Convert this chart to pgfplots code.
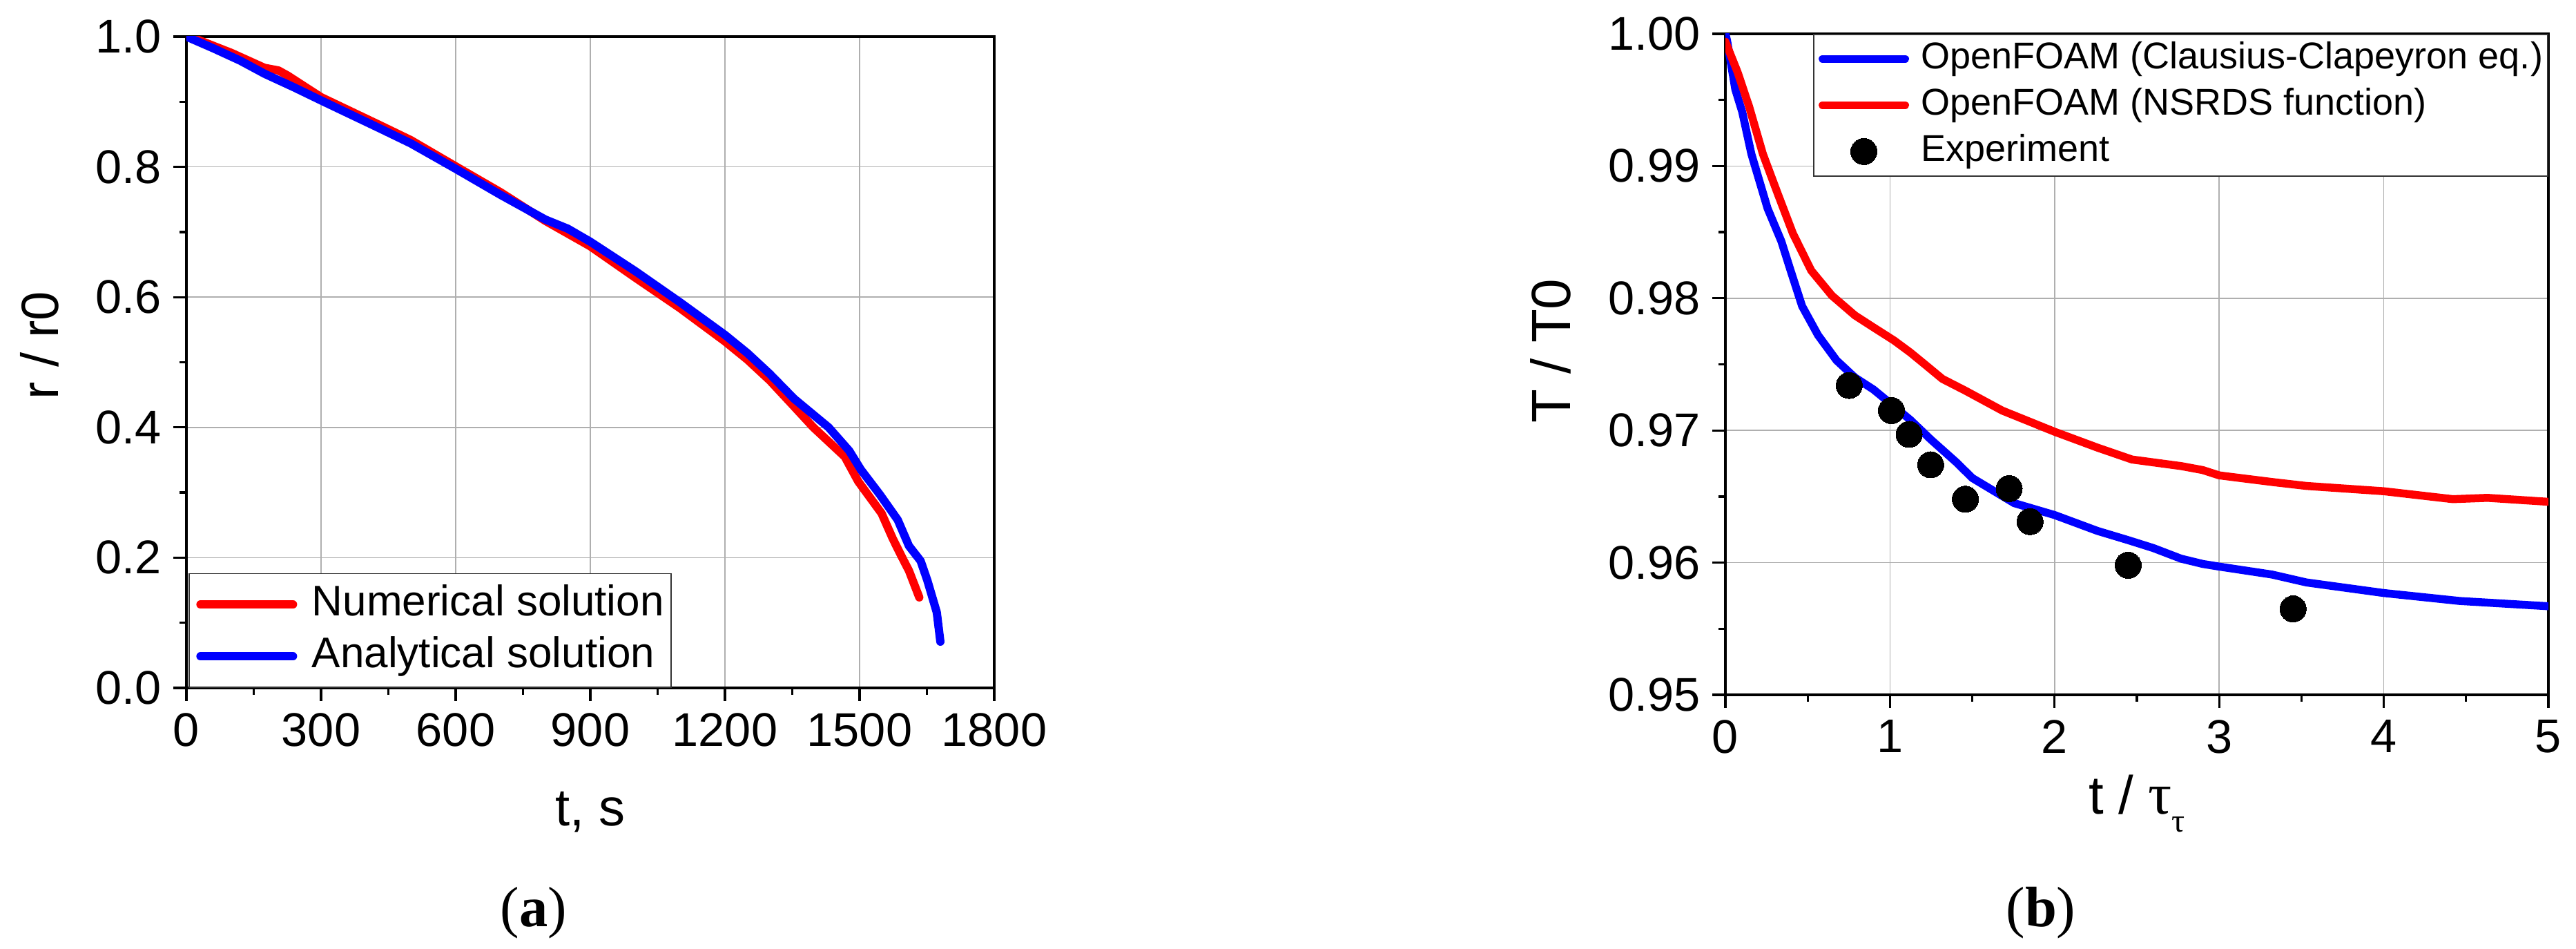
\documentclass[border=0pt]{standalone}
\usepackage{fontspec}
\setmainfont{Liberation Sans}
\newfontfamily\seriffont{Liberation Serif}
\usepackage{pgfplots}
\pgfplotsset{compat=1.18}
\definecolor{gridgray}{RGB}{175,175,175}
\definecolor{pblue}{RGB}{0,0,255}
\definecolor{pred}{RGB}{255,0,0}
\pgfplotsset{
  panel/.style={
    scale only axis, anchor=south west,
    axis line style={line width=0.66pt, black},
    tick style={line width=0.66pt, black},
    major tick length=3.8pt, minor tick length=2pt,
    tick align=outside, tick pos=left,
    grid=major, major grid style={line width=0.3pt, gridgray},
    minor x tick num=1, minor y tick num=1,
    tick label style={font=\fontsize{13.7}{13.7}\selectfont},
    /pgf/number format/assume math mode=true,
    /pgf/number format/1000 sep={},
    scaled ticks=false,
    legend cell align=left,
    every axis plot/.append style={line cap=round, line join=round},
  },
  dotimg/.style={legend image code/.code={\draw[mark repeat=2, mark phase=2, ##1] plot coordinates {(0pt,0pt) (11.95pt,0pt) (23.9pt,0pt)};}},
}
\begin{document}
\begin{tikzpicture}
\path[use as bounding box] (0pt,0pt) rectangle (746.2pt,274.8pt);

% ---------- (a) ----------
\begin{axis}[panel, at={(54pt,75.6pt)}, width=234pt, height=188.6pt,
  xmin=0, xmax=1800, ymin=0, ymax=1,
  xtick={0,300,600,900,1200,1500,1800},
  ytick={0,0.2,0.4,0.6,0.8,1},
  yticklabel style={/pgf/number format/.cd, fixed, fixed zerofill, precision=1},
  legend style={at={(axis description cs:0,0)}, anchor=south west, xshift=0.6pt,
    draw=black!80, line width=0.35pt, font=\fontsize{12.4}{12.4}\selectfont,
    inner xsep=2.1pt, inner ysep=3.2pt, row sep=3.5pt, column sep=4.3pt,
    nodes={inner sep=0pt, text height=9pt, text depth=2.5pt}},
  legend image code/.code={\draw[#1] (0pt,0pt) -- (26.8pt,0pt);},
]
\addplot[pred, line width=2.4pt] table {
t r
0 1.000
15 0.998
100 0.975
174 0.952
205 0.948
226 0.940
300 0.907
431 0.864
500 0.841
602 0.800
700 0.761
800 0.717
900 0.678
1000 0.630
1100 0.583
1200 0.532
1250 0.504
1300 0.472
1354 0.432
1397 0.400
1467 0.355
1497 0.317
1549 0.268
1574 0.229
1595 0.200
1610 0.180
1633 0.139
};
\addlegendentry{Numerical solution}
\addplot[pblue, line width=2.4pt] table {
t r
0 1.000
60 0.982
120 0.963
174 0.943
240 0.922
300 0.902
431 0.859
500 0.836
600 0.797
700 0.757
800 0.719
850 0.705
900 0.685
1000 0.640
1100 0.592
1200 0.542
1250 0.514
1300 0.482
1354 0.444
1431 0.400
1477 0.364
1503 0.335
1545 0.297
1585 0.258
1610 0.218
1636 0.195
1651 0.165
1672 0.116
1680 0.071
};
\addlegendentry{Analytical solution}
\end{axis}

% ---------- (b) ----------
\begin{axis}[panel, at={(499.8pt,73.6pt)}, width=238.4pt, height=191.4pt,
  xmin=0, xmax=5, ymin=0.95, ymax=1.0,
  xtick={0,1,2,3,4,5},
  ytick={0.95,0.96,0.97,0.98,0.99,1.00},
  yticklabel style={/pgf/number format/.cd, fixed, fixed zerofill, precision=2},
  legend style={at={(axis description cs:1,1)}, anchor=north east,
    draw=black!80, line width=0.35pt, font=\fontsize{10.8}{10.8}\selectfont,
    inner xsep=1.4pt, inner ysep=1.85pt, row sep=2.9pt, column sep=3.55pt,
    nodes={inner sep=0pt, text height=8pt, text depth=2.5pt}},
  dotimg,
]
\addplot[pblue, line width=2.3pt] table {
t T
0.000 1.0000
0.010 0.9995
0.060 0.9958
0.102 0.9941
0.158 0.9909
0.256 0.9868
0.340 0.9843
0.396 0.9821
0.466 0.9794
0.563 0.9772
0.675 0.9753
0.787 0.9740
0.899 0.9731
0.997 0.9721
1.123 0.9708
1.249 0.9693
1.402 0.9676
1.500 0.9664
1.754 0.9645
2.000 0.9636
2.260 0.9624
2.447 0.9617
2.600 0.9611
2.768 0.9603
2.900 0.9599
3.000 0.9597
3.320 0.9591
3.530 0.9585
4.000 0.9577
4.460 0.9571
5.000 0.9567
};
\addlegendentry{OpenFOAM (Clausius-Clapeyron eq.)}
\addplot[pred, line width=2.3pt] table {
t T
0.000 0.9994
0.074 0.9971
0.144 0.9945
0.228 0.9909
0.312 0.9881
0.410 0.9849
0.521 0.9821
0.647 0.9802
0.787 0.9787
0.899 0.9778
1.025 0.9768
1.123 0.9759
1.221 0.9749
1.318 0.9739
1.459 0.9730
1.682 0.9715
2.000 0.9699
2.260 0.9687
2.470 0.9678
2.770 0.9673
2.900 0.9670
3.000 0.9666
3.320 0.9661
3.530 0.9658
4.000 0.9654
4.420 0.9648
4.630 0.9649
5.000 0.9646
};
\addlegendentry{OpenFOAM (NSRDS function)}
\addplot[only marks, mark=*, mark size=3.8pt, mark options={fill=black, draw=black, line width=0pt}, dotimg] table {
t T
0.752 0.9734
1.009 0.9715
1.116 0.9697
1.247 0.9674
1.458 0.9648
1.724 0.9656
1.851 0.9631
2.447 0.9598
3.449 0.9565
};
\addlegendentry{Experiment}
\end{axis}

% ---------- labels ----------
\node[anchor=base, font=\fontsize{15.2}{15.2}\selectfont] at (171pt,35.6pt) {t, s};
\node[rotate=90, anchor=base, font=\fontsize{15.2}{15.2}\selectfont] at (17pt,174.8pt) {r / r0};
\node[rotate=90, anchor=base, font=\fontsize{16}{16}\selectfont] at (454.8pt,173.2pt) {T / T0};
\node[anchor=base, font=\fontsize{15.6}{15.6}\selectfont] at (619pt,39pt) {t / {\seriffont\fontsize{17}{17}\selectfont τ}\raisebox{-5.2pt}{\fontsize{9.5}{9.5}\selectfont\seriffont τ}};
\node[anchor=base, font=\seriffont\fontsize{16.5}{16.5}\selectfont] at (154.6pt,6.4pt) {(\textbf{a})};
\node[anchor=base, font=\seriffont\fontsize{16.5}{16.5}\selectfont] at (591.2pt,6.4pt) {(\textbf{b})};
\end{tikzpicture}
\end{document}
